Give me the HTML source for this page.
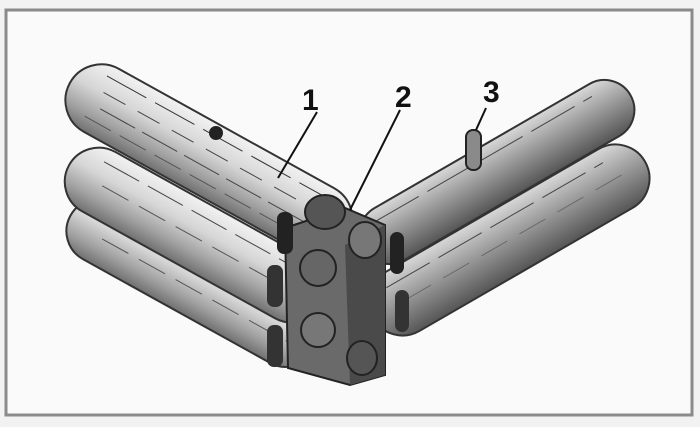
<!DOCTYPE html>
<html><head><style>
html,body{margin:0;padding:0;background:#f4f4f4;}
svg{display:block}
</style></head><body>
<svg width="700" height="427" viewBox="0 0 700 427" xmlns="http://www.w3.org/2000/svg">
<defs>
<linearGradient id="lg" x1="0" y1="0" x2="0" y2="1">
<stop offset="0" stop-color="#f2f2f2"/><stop offset="0.4" stop-color="#d6d6d6"/><stop offset="0.75" stop-color="#a0a0a0"/><stop offset="1" stop-color="#707070"/>
</linearGradient>
<linearGradient id="rg" x1="0" y1="0" x2="0" y2="1">
<stop offset="0" stop-color="#d8d8d8"/><stop offset="0.45" stop-color="#9c9c9c"/><stop offset="1" stop-color="#555"/>
</linearGradient>
</defs>
<rect x="0" y="0" width="700" height="427" fill="#f2f2f2"/>
<rect x="6" y="10" width="686" height="405" fill="#fafafa" stroke="#8a8a8a" stroke-width="3"/>
<!-- left logs -->
<g transform="translate(192,283) rotate(29)"><rect x="-139" y="-32" width="278" height="64" rx="32" fill="url(#lg)" stroke="#333" stroke-width="2"/>
<line x1="-110" y1="-18" x2="110" y2="-18" stroke="#444" stroke-dasharray="40 10"/><line x1="-100" y1="5" x2="120" y2="5" stroke="#555" stroke-dasharray="30 12"/></g>
<g transform="translate(195,235) rotate(29)"><rect x="-144" y="-34" width="288" height="68" rx="34" fill="url(#lg)" stroke="#333" stroke-width="2"/>
<line x1="-115" y1="-20" x2="110" y2="-20" stroke="#444" stroke-dasharray="40 10"/><line x1="-105" y1="2" x2="120" y2="2" stroke="#555" stroke-dasharray="30 12"/></g>
<g transform="translate(209,160) rotate(29)"><rect x="-159" y="-36" width="318" height="72" rx="36" fill="url(#lg)" stroke="#333" stroke-width="2"/>
<line x1="-130" y1="-24" x2="120" y2="-24" stroke="#333" stroke-dasharray="45 10"/><line x1="-125" y1="-8" x2="125" y2="-8" stroke="#444" stroke-dasharray="25 14"/><line x1="-120" y1="8" x2="130" y2="8" stroke="#444" stroke-dasharray="40 8"/><line x1="-130" y1="22" x2="120" y2="22" stroke="#555" stroke-dasharray="30 10"/></g>
<circle cx="216" cy="133" r="7" fill="#222"/>
<!-- right logs -->
<g transform="translate(497,172) rotate(-30)"><rect x="-154" y="-30" width="308" height="60" rx="30" fill="url(#rg)" stroke="#333" stroke-width="2"/>
<line x1="-130" y1="-18" x2="120" y2="-18" stroke="#444" stroke-dasharray="50 10"/></g>
<g transform="translate(509,240) rotate(-30)"><rect x="-157" y="-34" width="314" height="68" rx="34" fill="url(#rg)" stroke="#333" stroke-width="2"/>
<line x1="-130" y1="-20" x2="120" y2="-20" stroke="#444" stroke-dasharray="50 10"/><line x1="-120" y1="0" x2="130" y2="0" stroke="#666" stroke-dasharray="30 14"/></g>
<!-- peg -->
<rect x="466" y="130" width="15" height="40" rx="7" fill="#8a8a8a" stroke="#222" stroke-width="2"/>
<!-- central block -->
<polygon points="285,228 345,208 385,225 385,375 350,385 288,368" fill="#6a6a6a" stroke="#222" stroke-width="2"/>
<polygon points="345,245 385,225 385,375 350,385" fill="#4a4a4a"/>
<ellipse cx="325" cy="212" rx="20" ry="17" fill="#555" stroke="#222" stroke-width="2"/>
<ellipse cx="365" cy="240" rx="16" ry="18" fill="#777" stroke="#222" stroke-width="2"/>
<ellipse cx="318" cy="268" rx="18" ry="18" fill="#666" stroke="#222" stroke-width="2"/>
<ellipse cx="318" cy="330" rx="17" ry="17" fill="#777" stroke="#222" stroke-width="2"/>
<ellipse cx="362" cy="358" rx="15" ry="17" fill="#555" stroke="#222" stroke-width="2"/>
<rect x="277" y="212" width="16" height="42" rx="7" fill="#222"/>
<rect x="390" y="232" width="14" height="42" rx="7" fill="#222"/>
<rect x="267" y="265" width="16" height="42" rx="7" fill="#333"/>
<rect x="267" y="325" width="16" height="42" rx="7" fill="#333"/>
<rect x="395" y="290" width="14" height="42" rx="7" fill="#333"/>
<!-- labels -->
<g font-family="Liberation Sans, sans-serif" font-size="30" font-weight="bold" fill="#111">
<text x="302" y="110">1</text><text x="395" y="107">2</text><text x="483" y="102">3</text></g>
<g stroke="#111" stroke-width="2">
<line x1="317" y1="112" x2="278" y2="178"/><line x1="400" y1="110" x2="350" y2="210"/><line x1="486" y1="108" x2="476" y2="130"/></g>
</svg>
</body></html>
